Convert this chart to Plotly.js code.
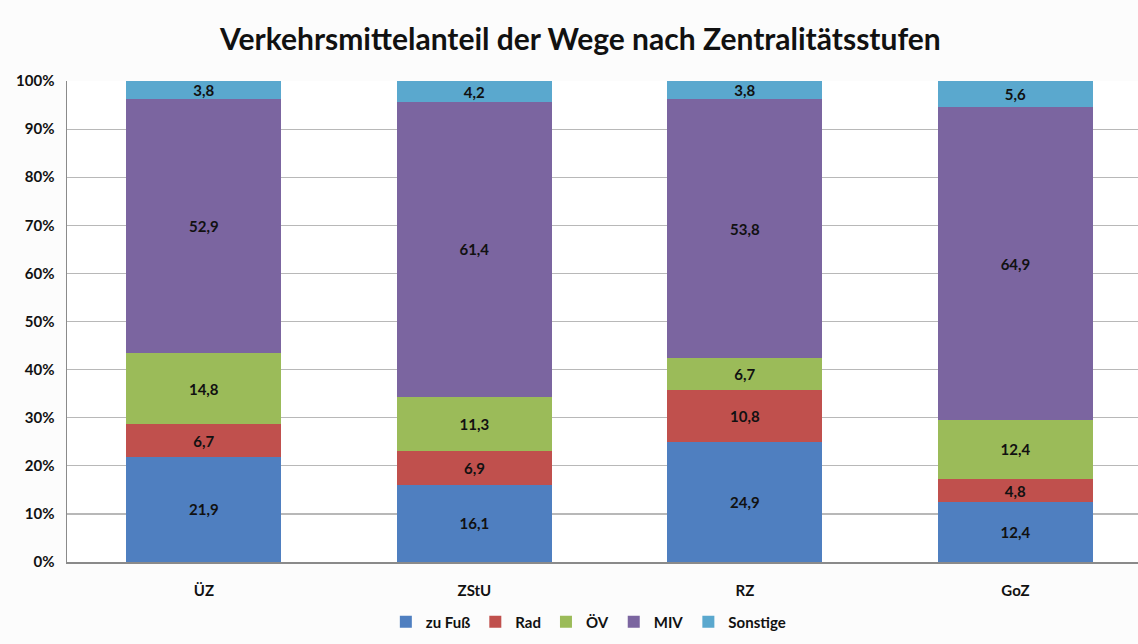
<!DOCTYPE html>
<html><head><meta charset="utf-8">
<script src="https://cdn.plot.ly/plotly-3.0.1.min.js"></script>
<style>html,body{margin:0;padding:0;background:#fcfcfc}</style>
</head><body>
<div id="chart" style="width:1138px;height:644px"></div>
<script>
const categories = ["ÜZ", "ZStU", "RZ", "GoZ"];
const seriesNames = ["zu Fuß", "Rad", "ÖV", "MIV", "Sonstige"];
const zuFuss = [21.9, 16.1, 24.9, 12.4];
const rad = [6.7, 6.9, 10.8, 4.8];
const oev = [14.8, 11.3, 6.7, 12.4];
const miv = [52.9, 61.4, 53.8, 64.9];
const sonstige = [3.8, 4.2, 3.8, 5.6];
const yTicks = [0, 10, 20, 30, 40, 50, 60, 70, 80, 90, 100];
const yTickLabels = ["0%", "10%", "20%", "30%", "40%", "50%", "60%", "70%", "80%", "90%", "100%"];

const colors = ["#4F7FC0", "#C0504D", "#9BBB59", "#7B65A0", "#5AA8CE"];
const values = [zuFuss, rad, oev, miv, sonstige];
const font = {family: "Lato, 'Open Sans', sans-serif", color: "#111"};

const traces = values.map((v, i) => ({
  type: "bar",
  name: seriesNames[i],
  x: categories,
  y: v,
  marker: {color: colors[i], line: {width: 0}},
  texttemplate: "%{y:.1f}",
  textposition: "inside",
  insidetextanchor: "middle",
  textangle: 0,
  constraintext: "none",
  textfont: {family: font.family, size: 15, color: "#111", weight: "bold"},
  hoverinfo: "none"
}));

const layout = {
  width: 1138, height: 644,
  separators: ",.",
  barmode: "stack",
  bargap: 0.427,
  paper_bgcolor: "#fcfcfc",
  plot_bgcolor: "#ffffff",
  margin: {l: 67, r: 0, t: 81, b: 82},
  title: {
    text: "Verkehrsmittelanteil der Wege nach Zentralitätsstufen",
    font: {family: font.family, size: 30, color: "#111", weight: "bold"},
    x: 0.51, xref: "container", xanchor: "center",
    y: 0.938, yref: "container", yanchor: "middle"
  },
  xaxis: {
    type: "category",
    range: [-0.506, 3.453],
    showline: true, linecolor: "#8a8a8a", linewidth: 1.5,
    ticks: "", showgrid: false,
    tickfont: {family: font.family, size: 15, color: "#111", weight: "bold"},
    ticklabelstandoff: 14
  },
  yaxis: {
    range: [0, 100],
    tickmode: "array",
    tickvals: yTicks,
    ticktext: yTickLabels,
    showline: true, linecolor: "#8a8a8a", linewidth: 1.5,
    gridcolor: "#b8b8b8", gridwidth: 1.2,
    zeroline: false,
    ticks: "",
    tickfont: {family: font.family, size: 15, color: "#111", weight: "bold"},
    ticklabelstandoff: 8
  },
  showlegend: true,
  legend: {
    orientation: "h",
    xref: "container", yref: "container",
    x: 0.517, xanchor: "center",
    y: 0.034, yanchor: "middle",
    font: {family: font.family, size: 15, color: "#111", weight: "bold"},
    itemwidth: 30,
    traceorder: "normal",
    bgcolor: "rgba(0,0,0,0)"
  }
};

Plotly.newPlot("chart", traces, layout, {displayModeBar: false, staticPlot: true});
</script>
</body></html>
